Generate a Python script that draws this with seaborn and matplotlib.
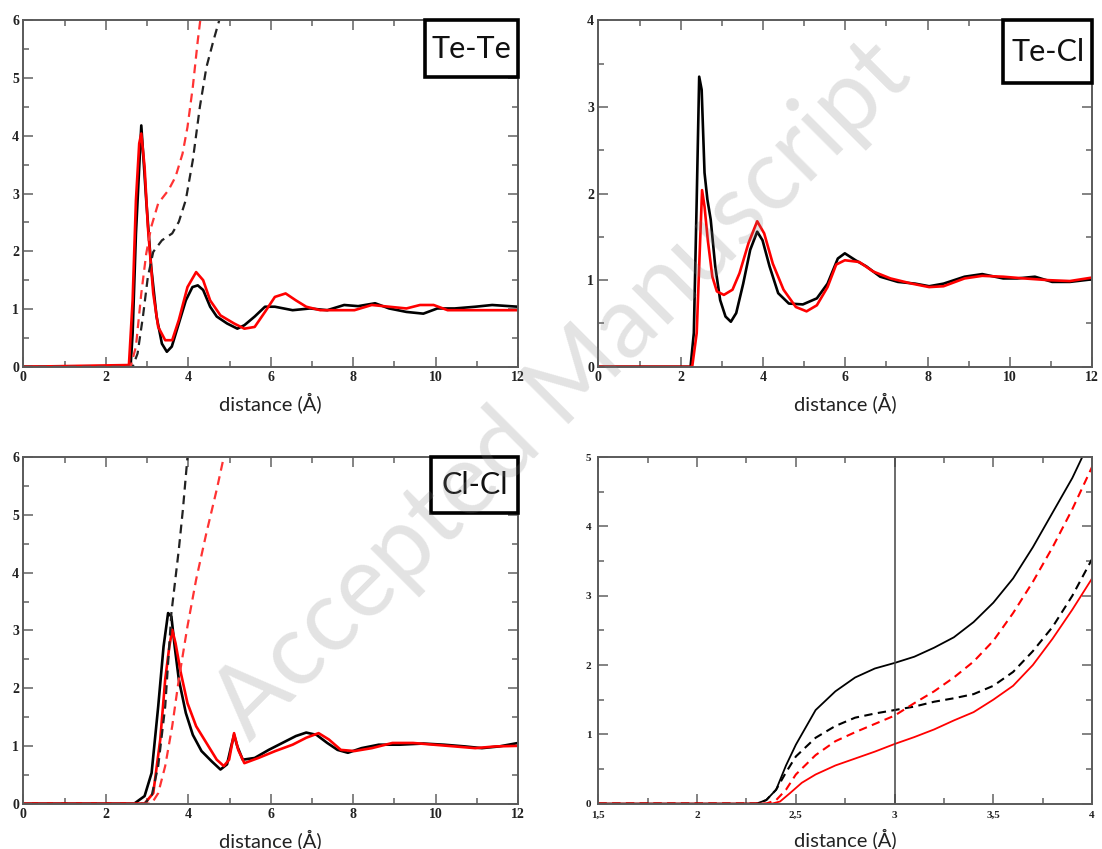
import matplotlib
matplotlib.use("Agg")
import matplotlib.pyplot as plt
import matplotlib.patches as mpatches
from matplotlib.ticker import MultipleLocator
import pandas as pd
import seaborn as sns

# ---- Te-Te g(r) ----
tete_r_black = [0, 2.6, 2.65, 2.73, 2.86, 2.98, 3.1, 3.23, 3.36, 3.48, 3.6, 3.77, 3.94, 4.1, 4.23, 4.36,
                4.53, 4.69, 4.94, 5.19, 5.36, 5.61, 5.86, 6.1, 6.53, 6.95, 7.37, 7.78, 8.12, 8.53, 8.87,
                9.29, 9.7, 10.04, 10.46, 10.96, 11.37, 12]
tete_g_black = [0, 0, 0.58, 2.3, 4.18, 2.88, 1.73, 0.87, 0.4, 0.26, 0.35, 0.75, 1.15, 1.38, 1.41, 1.33,
                1.04, 0.87, 0.75, 0.66, 0.72, 0.87, 1.04, 1.04, 0.98, 1.01, 0.98, 1.07, 1.05, 1.1, 1.01,
                0.95, 0.92, 1.01, 1.01, 1.04, 1.07, 1.04]
tete_r_red = [0, 2.56, 2.65, 2.73, 2.81, 2.86, 2.94, 3.02, 3.15, 3.27, 3.44, 3.61, 3.77, 3.98, 4.19, 4.36,
              4.53, 4.78, 5.11, 5.36, 5.61, 5.86, 6.1, 6.36, 6.61, 6.86, 7.2, 7.62, 8.03, 8.45, 8.87,
              9.29, 9.62, 9.95, 10.29, 10.79, 11.29, 12]
tete_g_red = [0, 0.03, 1.15, 2.88, 3.87, 4.04, 3.46, 2.42, 1.27, 0.69, 0.46, 0.46, 0.81, 1.38, 1.64, 1.5,
              1.15, 0.89, 0.75, 0.66, 0.69, 0.95, 1.21, 1.27, 1.15, 1.04, 0.98, 0.98, 0.98, 1.07, 1.04,
              1.01, 1.07, 1.07, 0.98, 0.98, 0.98, 0.98]
tete_r_nblack = [0, 2.65, 2.77, 2.9, 3.02, 3.15, 3.36, 3.61, 3.77, 3.94, 4.11, 4.28, 4.44, 4.61, 4.75]
tete_n_black = [0, 0, 0.23, 0.87, 1.56, 1.99, 2.19, 2.31, 2.51, 2.89, 3.58, 4.5, 5.19, 5.65, 6.0]
tete_r_nred = [0, 2.6, 2.73, 2.86, 2.98, 3.1, 3.27, 3.52, 3.69, 3.86, 3.98, 4.11, 4.23, 4.29]
tete_n_red = [0, 0, 0.35, 1.27, 1.96, 2.42, 2.83, 3.06, 3.29, 3.69, 4.15, 4.85, 5.65, 6.0]

# ---- Te-Cl g(r) ----
tecl_r_black = [0, 2.24, 2.32, 2.39, 2.45, 2.51, 2.58, 2.65, 2.73, 2.84, 2.96, 3.09, 3.22, 3.35, 3.52,
                3.69, 3.86, 3.99, 4.16, 4.37, 4.63, 4.97, 5.31, 5.57, 5.82, 5.99, 6.25, 6.51, 6.85, 7.28,
                7.7, 8.04, 8.39, 8.9, 9.33, 9.84, 10.18, 10.61, 11.03, 11.46, 12]
tecl_g_black = [0, 0, 0.39, 1.93, 3.35, 3.2, 2.24, 1.93, 1.7, 1.16, 0.77, 0.58, 0.52, 0.62, 0.96,
                1.35, 1.56, 1.46, 1.16, 0.85, 0.73, 0.72, 0.79, 0.96, 1.25, 1.31, 1.23, 1.16, 1.04, 0.98,
                0.96, 0.93, 0.96, 1.04, 1.07, 1.02, 1.02, 1.04, 0.98, 0.98, 1.01]
tecl_r_red = [0, 2.28, 2.39, 2.45, 2.52, 2.58, 2.66, 2.77, 2.88, 3.05, 3.26, 3.43, 3.65, 3.86, 4.03,
              4.24, 4.5, 4.8, 5.06, 5.31, 5.57, 5.78, 5.99, 6.34, 6.68, 7.1, 7.62, 8.04, 8.39, 8.9,
              9.33, 9.84, 10.35, 10.95, 11.46, 12]
tecl_g_red = [0, 0, 0.39, 1.16, 2.04, 1.85, 1.46, 1.04, 0.87, 0.83, 0.89, 1.08, 1.43, 1.68, 1.54,
              1.19, 0.89, 0.69, 0.64, 0.71, 0.92, 1.18, 1.23, 1.21, 1.1, 1.02, 0.96, 0.92, 0.93, 1.02,
              1.05, 1.04, 1.02, 1.0, 0.99, 1.03]

# ---- Cl-Cl g(r) ----
clcl_r_black = [0, 2.69, 2.94, 3.11, 3.27, 3.4, 3.51, 3.59, 3.67, 3.77, 3.94, 4.11, 4.32, 4.57, 4.78,
                4.94, 5.04, 5.11, 5.19, 5.32, 5.61, 5.95, 6.28, 6.61, 6.86, 7.11, 7.37, 7.62, 7.87, 8.2,
                8.62, 9.12, 9.7, 10.2, 10.71, 11.12, 11.54, 12]
clcl_g_black = [0, 0, 0.13, 0.53, 1.68, 2.72, 3.3, 3.24, 2.72, 2.15, 1.57, 1.19, 0.91, 0.73, 0.59,
                0.68, 0.99, 1.19, 0.99, 0.76, 0.79, 0.93, 1.05, 1.17, 1.23, 1.19, 1.05, 0.93, 0.88, 0.96,
                1.02, 1.02, 1.04, 1.02, 0.99, 0.96, 0.99, 1.05]
clcl_r_red = [0, 2.94, 3.15, 3.32, 3.44, 3.54, 3.61, 3.69, 3.82, 3.98, 4.19, 4.44, 4.69, 4.86, 4.99,
              5.11, 5.21, 5.36, 5.7, 6.11, 6.53, 6.86, 7.16, 7.41, 7.7, 8.03, 8.45, 8.95, 9.45, 9.95,
              10.46, 10.96, 11.45, 12]
clcl_g_red = [0, 0, 0.18, 1.11, 2.15, 2.72, 3.01, 2.78, 2.26, 1.74, 1.34, 1.05, 0.76, 0.65, 0.76,
              1.22, 0.93, 0.7, 0.79, 0.91, 1.02, 1.14, 1.22, 1.11, 0.93, 0.91, 0.96, 1.05, 1.05, 1.02,
              0.99, 0.96, 0.99, 1.0]
clcl_r_nblack = [0, 2.94, 3.11, 3.27, 3.44, 3.59, 3.77, 3.87, 3.98]
clcl_n_black = [0, 0, 0.13, 0.65, 1.68, 3.3, 4.4, 5.1, 6.0]
clcl_r_nred = [0, 3.11, 3.27, 3.44, 3.61, 3.77, 3.98, 4.19, 4.44, 4.69, 4.86]
clcl_n_red = [0, 0, 0.18, 0.65, 1.34, 2.15, 3.07, 3.88, 4.69, 5.44, 6.0]

# ---- zoom on running coordination numbers ----
zoom_r_black = [1.5, 2.3, 2.35, 2.4, 2.45, 2.5, 2.55, 2.6, 2.7, 2.8, 2.9, 3.0, 3.1, 3.2, 3.3, 3.4, 3.5,
                3.6, 3.7, 3.8, 3.9, 3.95]
zoom_n_black = [0, 0, 0.05, 0.2, 0.55, 0.85, 1.1, 1.35, 1.62, 1.82, 1.95, 2.03, 2.12, 2.25, 2.4, 2.62,
                2.9, 3.25, 3.7, 4.2, 4.7, 5.0]
zoom_r_dblack = [1.5, 2.3, 2.35, 2.4, 2.45, 2.5, 2.6, 2.7, 2.8, 2.9, 3.0, 3.1, 3.2, 3.3, 3.4, 3.5, 3.6,
                 3.7, 3.8, 3.9, 4.0]
zoom_n_dblack = [0, 0, 0.05, 0.2, 0.45, 0.68, 0.95, 1.12, 1.24, 1.3, 1.35, 1.4, 1.47, 1.52, 1.58, 1.7,
                 1.9, 2.2, 2.55, 3.0, 3.53]
zoom_r_dred = [1.5, 2.35, 2.4, 2.45, 2.5, 2.6, 2.7, 2.8, 2.9, 3.0, 3.1, 3.2, 3.3, 3.4, 3.5, 3.6, 3.7,
               3.8, 3.9, 4.0]
zoom_n_dred = [0, 0, 0.05, 0.2, 0.42, 0.7, 0.9, 1.03, 1.15, 1.27, 1.45, 1.62, 1.82, 2.05, 2.35, 2.75,
               3.2, 3.7, 4.25, 4.86]
zoom_r_red = [1.5, 2.38, 2.42, 2.47, 2.53, 2.6, 2.7, 2.8, 2.9, 3.0, 3.1, 3.2, 3.3, 3.4, 3.5, 3.6, 3.7,
              3.8, 3.9, 4.0]
zoom_n_red = [0, 0, 0.03, 0.15, 0.3, 0.42, 0.55, 0.65, 0.75, 0.86, 0.96, 1.07, 1.2, 1.32, 1.5, 1.7,
              2.0, 2.38, 2.8, 3.25]

zoom_xticks = [1.5, 2, 2.5, 3, 3.5, 4]
zoom_xticklabels = ["1,5", "2", "2,5", "3", "3,5", "4"]

sns.set_style("ticks")
plt.rcParams['font.family'] = ['Liberation Serif', 'DejaVu Serif']
plt.rcParams['font.weight'] = 'bold'

DASH = (0, (4, 2.6))


def curve(ax, r, v, color, ls='-', lw=1.9):
    df = pd.DataFrame({'r': r, 'v': v})
    sns.lineplot(data=df, x='r', y='v', ax=ax, color=color, linestyle=ls, linewidth=lw,
                 sort=False, estimator=None, legend=False)


def style(ax, xlim, ylim, xmaj, xmin, ymaj, ymin, fs=10, xpad=3, ypad=3):
    ax.set_xlim(xlim)
    ax.set_ylim(ylim)
    ax.xaxis.set_major_locator(MultipleLocator(xmaj))
    ax.xaxis.set_minor_locator(MultipleLocator(xmin))
    ax.yaxis.set_major_locator(MultipleLocator(ymaj))
    ax.yaxis.set_minor_locator(MultipleLocator(ymin))
    ax.tick_params(which='both', direction='in', top=True, right=True, color='#7a7a7a',
                   labelcolor='#222222', labelsize=fs, width=1.3)
    ax.tick_params(which='major', length=7)
    ax.tick_params(axis='x', which='major', pad=xpad)
    ax.tick_params(axis='y', which='major', pad=ypad)
    ax.tick_params(which='minor', length=4)
    for s in ax.spines.values():
        s.set_color('#5a5a5a')
        s.set_linewidth(1.4)
    ax.set_xlabel('distance (Å)', family='Lato', fontweight='normal', fontsize=14.5,
                  color='#222222', labelpad=6)
    ax.set_ylabel('')


def tag(ax, text, x0, y0):
    ax.add_patch(mpatches.Rectangle((x0, y0), 1 - x0, 1 - y0, transform=ax.transAxes,
                                    facecolor='white', edgecolor='black', linewidth=2.6,
                                    zorder=10, clip_on=False))
    ax.text((x0 + 1) / 2, (y0 + 1) / 2, text, transform=ax.transAxes, ha='center', va='center',
            family='Lato', fontweight='normal', fontsize=22, color='#111111', zorder=11)


fig = plt.figure(figsize=(11.02, 8.49), dpi=100)
ax1 = fig.add_axes([0.0212, 0.568, 0.449, 0.408])
ax2 = fig.add_axes([0.543, 0.568, 0.448, 0.408])
ax3 = fig.add_axes([0.0212, 0.0535, 0.449, 0.408])
ax4 = fig.add_axes([0.543, 0.0535, 0.448, 0.408])

# Te-Te
curve(ax1, tete_r_black, tete_g_black, 'black')
curve(ax1, tete_r_red, tete_g_red, 'red')
curve(ax1, tete_r_nblack, tete_n_black, '#222222', DASH, 1.6)
curve(ax1, tete_r_nred, tete_n_red, '#ff3333', DASH, 1.6)
style(ax1, (0, 12), (0, 6), 2, 1, 1, 0.5)
tag(ax1, 'Te-Te', 0.812, 0.836)

# Te-Cl
curve(ax2, tecl_r_black, tecl_g_black, 'black')
curve(ax2, tecl_r_red, tecl_g_red, 'red')
style(ax2, (0, 12), (0, 4), 2, 1, 1, 0.5)
tag(ax2, 'Te-Cl', 0.82, 0.818)

# Cl-Cl
curve(ax3, clcl_r_black, clcl_g_black, 'black')
curve(ax3, clcl_r_red, clcl_g_red, 'red')
curve(ax3, clcl_r_nblack, clcl_n_black, '#222222', DASH, 1.6)
curve(ax3, clcl_r_nred, clcl_n_red, '#ff3333', DASH, 1.6)
style(ax3, (0, 12), (0, 6), 2, 1, 1, 0.5)
tag(ax3, 'Cl-Cl', 0.824, 0.838)

# zoom
curve(ax4, zoom_r_black, zoom_n_black, 'black', '-', 1.3)
curve(ax4, zoom_r_dblack, zoom_n_dblack, 'black', DASH, 1.5)
curve(ax4, zoom_r_dred, zoom_n_dred, 'red', DASH, 1.5)
curve(ax4, zoom_r_red, zoom_n_red, 'red', '-', 1.3)
ax4.axvline(3, color='#444444', linewidth=1.1)
style(ax4, (1.5, 4), (0, 5), 0.5, 0.25, 1, 0.5, fs=8, xpad=5, ypad=5)
ax4.set_xticks(zoom_xticks)
ax4.set_xticklabels(zoom_xticklabels)

fig.text(0.51, 0.54, 'Accepted Manuscript', rotation=45, rotation_mode='anchor',
         ha='center', va='center', family='Lato', fontweight='normal', fontsize=72,
         color=(0.5, 0.5, 0.5), alpha=0.22, zorder=100)

fig.savefig('out.png', dpi=100)
